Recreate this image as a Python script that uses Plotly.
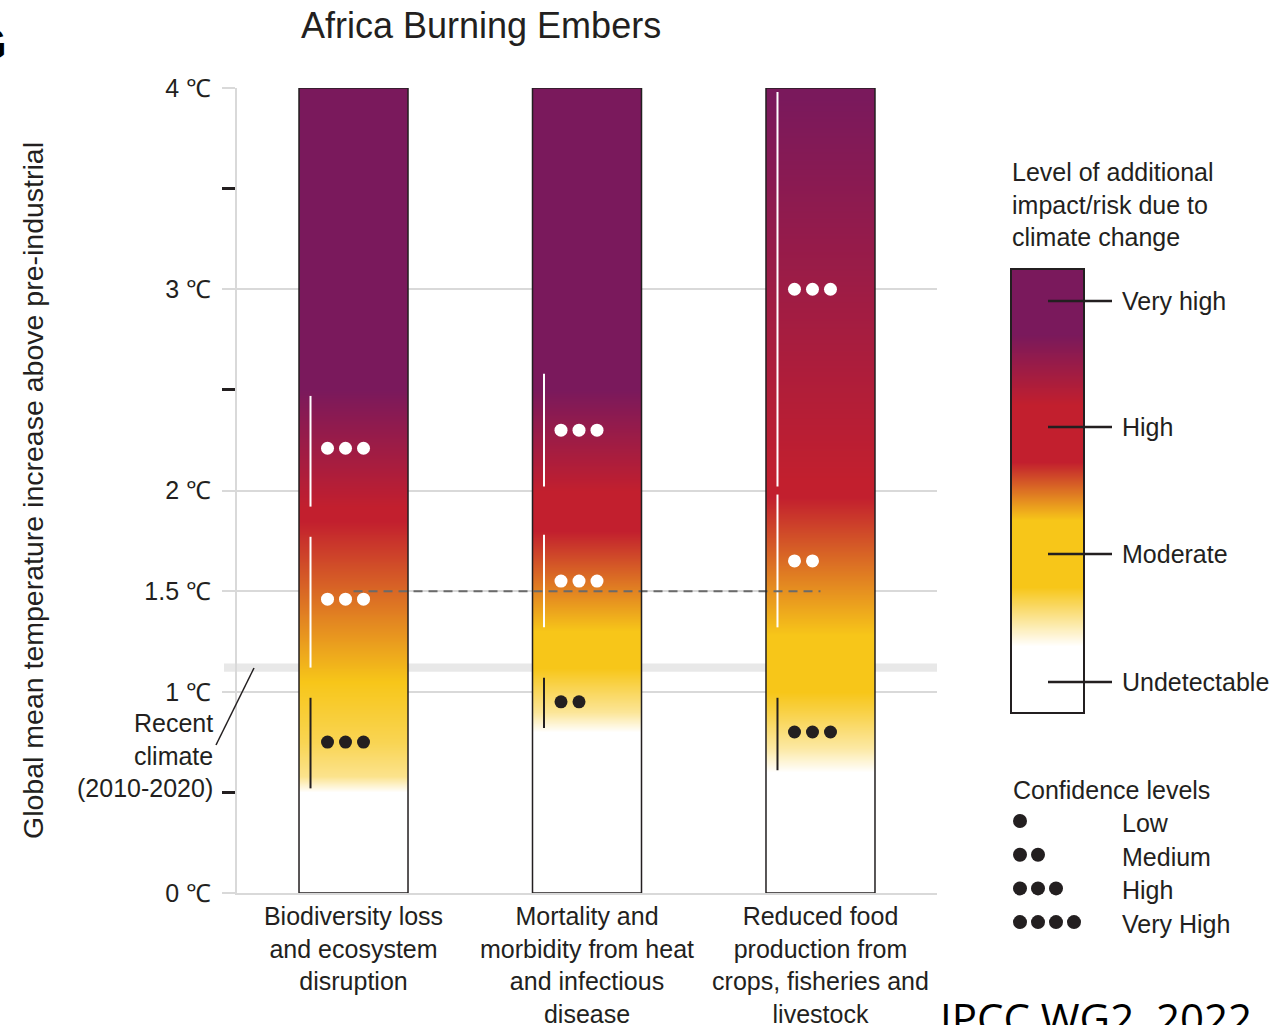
import plotly.graph_objects as go

# ---------------- data ----------------
categories = ["Biodiversity loss<br>and ecosystem<br>disruption",
              "Mortality and<br>morbidity from heat<br>and infectious<br>disease",
              "Reduced food<br>production from<br>crops, fisheries and<br>livestock"]

# ember colour transitions: temperature (°C) -> risk level (0 undetectable .. 3 very high)
ember1_temp = [0.0, 0.50, 0.58, 0.75, 1.05, 1.85, 1.92, 2.50, 4.0]
ember1_level = [0, 0, 0.5, 0.75, 1, 2, 2, 3, 3]
ember2_temp = [0.0, 0.80, 0.90, 1.12, 1.30, 1.80, 2.00, 2.50, 4.0]
ember2_level = [0, 0, 0.45, 1, 1, 2, 2, 3, 3]
ember3_temp = [0.0, 0.60, 0.72, 0.90, 1.00, 1.28, 1.97, 2.05, 3.95, 4.0]
ember3_level = [0, 0, 0.4, 0.8, 1, 1, 2, 2, 3, 3]

# confidence assessments of each transition
conf_ember = [0, 0, 0, 1, 1, 1, 2, 2, 2]
conf_low = [1.92, 1.12, 0.52, 2.02, 1.32, 0.82, 2.02, 1.32, 0.61]
conf_high = [2.47, 1.77, 0.97, 2.58, 1.78, 1.07, 3.98, 1.98, 0.97]
conf_mid = [2.21, 1.46, 0.75, 2.30, 1.55, 0.95, 3.00, 1.65, 0.80]
conf_dots = [3, 3, 3, 3, 3, 2, 3, 2, 3]
conf_on_dark = [True, True, False, True, True, False, True, True, False]

ytick_vals = [0, 1, 1.5, 2, 3, 4]
ytick_text = ["0 ℃", "1 ℃", "1.5 ℃", "2 ℃", "3 ℃", "4 ℃"]
yminor_vals = [0.5, 2.5, 3.5]
recent_climate = [1.10, 1.14]
paris_level = 1.5

risk_levels = ["Undetectable", "Moderate", "High", "Very high"]
legend_frac = [0, 0.151, 0.284, 0.435, 0.565, 0.694, 0.851, 1.0]
legend_level = [0, 0, 1, 1, 2, 2, 3, 3]
legend_tick_frac = [0.070, 0.358, 0.644, 0.928]

confidence_names = ["Low", "Medium", "High", "Very High"]
confidence_dots = [1, 2, 3, 4]

# ---------------- style / layout helpers ----------------
W, H = 1269, 1025
AX_L, AX_R, AX_T, AX_B = 237, 937, 88, 893   # main plotting box in page pixels
UNIT = 233.5  # px per category


def px_x(p):
    return p / W


def px_y(p):
    return 1 - p / H


FONT = "Liberation Sans, Arial, sans-serif"
INK = "#231f20"
GRID = "#d9d9d9"
colorscale = [[0, "#ffffff"], [1 / 3, "#f7c619"], [2 / 3, "#c21f2e"], [1, "#7a195c"]]
HW = 54.5 / UNIT
LINE_DX = -43 / UNIT
DOT_DX0 = -26 / UNIT
DOT_STEP = 18 / UNIT

fig = go.Figure()

embers = [(ember1_temp, ember1_level), (ember2_temp, ember2_level), (ember3_temp, ember3_level)]
for i, (t, lv) in enumerate(embers):
    fig.add_trace(go.Heatmap(
        x=[i - HW, i, i + HW], y=t, z=[[v, v] for v in lv],
        zmin=0, zmax=3, colorscale=colorscale, zsmooth="best",
        showscale=False, hoverinfo="skip", xaxis="x", yaxis="y"))

for k in range(len(conf_low)):
    e = conf_ember[k]
    col = "#ffffff" if conf_on_dark[k] else INK
    fig.add_trace(go.Scatter(
        x=[e + LINE_DX, e + LINE_DX], y=[conf_low[k], conf_high[k]], mode="lines",
        line=dict(color=col, width=2), hoverinfo="skip", xaxis="x", yaxis="y"))
    n = conf_dots[k]
    fig.add_trace(go.Scatter(
        x=[e + DOT_DX0 + j * DOT_STEP for j in range(n)], y=[conf_mid[k]] * n,
        mode="markers", marker=dict(color=col, size=13, line=dict(width=0)),
        hoverinfo="skip", xaxis="x", yaxis="y"))

fig.add_trace(go.Scatter(
    x=[0, 2], y=[paris_level, paris_level], mode="lines",
    line=dict(color="#6a6a6a", width=2, dash="9px,6px"), hoverinfo="skip",
    xaxis="x", yaxis="y"))

# legend colour bar (pixel-space overlay axis)
BAR_L, BAR_R, BAR_TOP, BAR_BOT = 1011, 1084, 269, 713
span = BAR_BOT - BAR_TOP
bar_y = [BAR_BOT - f * span for f in legend_frac]
bar_lv = list(legend_level)
# add pinning rows right at the frame so the smoothed image stays inside it
bar_y = [bar_y[0], bar_y[0] - 0.2] + bar_y[1:-1] + [bar_y[-1] + 0.2, bar_y[-1]]
bar_lv = [bar_lv[0], bar_lv[0]] + bar_lv[1:-1] + [bar_lv[-1], bar_lv[-1]]
bar_y, bar_lv = bar_y[::-1], bar_lv[::-1]
fig.add_trace(go.Heatmap(
    x=[BAR_L, (BAR_L + BAR_R) / 2, BAR_R], y=bar_y, z=[[v, v] for v in bar_lv],
    zmin=0, zmax=3, colorscale=colorscale, zsmooth="best",
    showscale=False, hoverinfo="skip", xaxis="x3", yaxis="y3"))

# confidence legend dots
for r, n in enumerate(confidence_dots):
    yy = 821 + r * 33.7
    fig.add_trace(go.Scatter(
        x=[1020 + j * 18 for j in range(n)], y=[yy] * n, mode="markers",
        marker=dict(color=INK, size=14, line=dict(width=0)),
        hoverinfo="skip", xaxis="x3", yaxis="y3"))

shapes = []
# recent climate band
shapes.append(dict(type="rect", xref="paper", yref="y", x0=px_x(224), x1=px_x(937),
                   y0=recent_climate[0], y1=recent_climate[1],
                   fillcolor="#e8e8e8", line=dict(width=0), layer="below"))
# leader line for recent climate label
shapes.append(dict(type="line", xref="paper", yref="paper", x0=px_x(216), y0=px_y(745),
                   x1=px_x(254), y1=px_y(668), line=dict(color=INK, width=1.5)))
# ember outlines
for i in range(3):
    shapes.append(dict(type="rect", xref="x", yref="y", x0=i - HW, x1=i + HW, y0=0, y1=4,
                       line=dict(color=INK, width=1.5), fillcolor="rgba(0,0,0,0)", layer="above"))
# legend bar outline and ticks
shapes.append(dict(type="rect", xref="x3", yref="y3", x0=BAR_L, x1=BAR_R, y0=BAR_TOP, y1=BAR_BOT,
                   line=dict(color=INK, width=2), fillcolor="rgba(0,0,0,0)", layer="above"))
annotations = []
for f, name in zip(legend_tick_frac, risk_levels):
    yy = BAR_BOT - f * span
    shapes.append(dict(type="line", xref="x3", yref="y3", x0=1048, x1=1112, y0=yy, y1=yy,
                       line=dict(color=INK, width=2.5), layer="above"))
    annotations.append(dict(xref="x3", yref="y3", x=1120, y=yy, text=name, showarrow=False,
                            xanchor="left", yanchor="middle", font=dict(size=25, color=INK)))

for r, name in enumerate(confidence_names):
    annotations.append(dict(xref="x3", yref="y3", x=1120, y=823 + r * 33.7, text=name,
                            showarrow=False, xanchor="left", yanchor="middle",
                            font=dict(size=25, color=INK)))

annotations += [
    dict(xref="x3", yref="y3", x=1011, y=790, text="Confidence levels", showarrow=False,
         xanchor="left", yanchor="middle", font=dict(size=25, color=INK)),
    dict(xref="x3", yref="y3", x=1010, y=204,
         text="Level of additional<br>impact/risk due to<br>climate change", showarrow=False,
         xanchor="left", yanchor="middle", align="left", font=dict(size=25, color=INK)),
    dict(xref="paper", yref="paper", x=px_x(299), y=px_y(25), text="Africa Burning Embers",
         showarrow=False, xanchor="left", yanchor="middle", font=dict(size=36, color=INK)),
    dict(xref="paper", yref="paper", x=px_x(33), y=px_y(491),
         text="Global mean temperature increase above pre-industrial", textangle=-90,
         showarrow=False, xanchor="center", yanchor="middle", font=dict(size=28.5, color=INK)),
    dict(xref="paper", yref="paper", x=px_x(215), y=px_y(755),
         text="Recent<br>climate<br>(2010-2020)", showarrow=False, xanchor="right",
         yanchor="middle", align="right", font=dict(size=25, color=INK)),
    dict(xref="x3", yref="y3", x=938, y=987, text="IPCC WG2, 2022",
         showarrow=False, xanchor="left", yanchor="top",
         font=dict(size=42, color="#000000", family="Open Sans, sans-serif")),
    dict(xref="x3", yref="y3", x=9, y=44, text="<b>G</b>",
         showarrow=False, xanchor="right", yanchor="middle",
         font=dict(size=46, color="#000000")),
]

fig.update_layout(
    width=W, height=H, margin=dict(l=0, r=0, t=0, b=0, autoexpand=False),
    paper_bgcolor="white", plot_bgcolor="rgba(0,0,0,0)", showlegend=False,
    font=dict(family=FONT, color=INK, size=25),
    xaxis=dict(domain=[px_x(AX_L), px_x(AX_R)], range=[-0.499, 2.499], tickmode="array",
               tickvals=[0, 1, 2], ticktext=categories, showgrid=False, zeroline=False,
               showline=True, linecolor=GRID, linewidth=2, ticks="",
               tickfont=dict(size=25, color=INK), fixedrange=True, anchor="y"),
    yaxis=dict(domain=[px_y(AX_B), px_y(AX_T)], range=[0, 4], tickmode="array",
               tickvals=ytick_vals, ticktext=ytick_text,
               showgrid=True, gridcolor=GRID, gridwidth=2, zeroline=False,
               showline=True, linecolor=GRID, linewidth=2,
               ticks="outside", ticklen=13, tickwidth=2, tickcolor=GRID,
               ticklabelstandoff=6, tickfont=dict(size=25, color=INK),
               minor=dict(tickmode="array", tickvals=yminor_vals, ticks="outside",
                          ticklen=13, tickwidth=3, tickcolor=INK, showgrid=False),
               fixedrange=True, anchor="x"),
    xaxis3=dict(domain=[0, 1], range=[0, W], visible=False, anchor="y3", fixedrange=True),
    yaxis3=dict(domain=[0, 1], range=[H, 0], visible=False, anchor="x3", fixedrange=True),
    shapes=shapes, annotations=annotations,
)

fig.write_html("out.html", config={"displayModeBar": False},
               post_script="document.body.style.margin='0px';")
